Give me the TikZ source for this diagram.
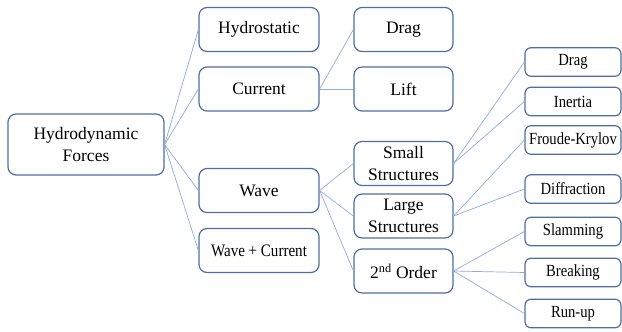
\documentclass[tikz,border=0pt]{standalone}
\usepackage{fontspec}
\setmainfont{Liberation Serif}
\newfontfamily\narrowserif[FakeStretch=0.86]{Liberation Serif}
\definecolor{boxline}{HTML}{4E6FA3}
\definecolor{linkline}{HTML}{8FAADC}
\begin{document}
\begin{tikzpicture}[x=1pt,y=-1pt,
  box/.style={draw=boxline, line width=1.2pt, rounded corners=8pt, fill=white,
    align=center, inner sep=0pt, font=\fontsize{17.5}{21.5}\selectfont},
  rootbox/.style={box, minimum width=156pt, minimum height=61pt},
  firstbox/.style={box, minimum width=120pt, minimum height=44pt},
  secondbox/.style={box, minimum width=99pt, minimum height=44pt},
  leafbox/.style={box, minimum width=96pt, minimum height=28.5pt, rounded corners=6pt,
    font=\narrowserif\fontsize{17}{20}\selectfont},
  link/.style={draw=linkline, line width=0.7pt}]
\useasboundingbox (0,0) rectangle (622,332);

% root
\node[rootbox] (hf) at (86,144.5) {Hydrodynamic\\Forces};

% first level
\node[firstbox] (hs) at (259,29.5) {Hydrostatic};
\node[firstbox] (cu) at (259,89) {Current};
\node[firstbox] (wa) at (259,190.5) {Wave};
\node[firstbox, font=\narrowserif\fontsize{17.5}{21}\selectfont] (wc) at (259,250.5) {Wave + Current};

% second level
\node[secondbox] (dr) at (403.5,29.5) {Drag};
\node[secondbox] (li) at (403.5,89) {Lift};
\node[secondbox] (ss) at (403.5,163.5) {Small\\Structures};
\node[secondbox] (ls) at (403.5,216) {Large\\Structures};
\node[secondbox] (so) at (403.5,271) {2\textsuperscript{nd} Order};

% leaves
\node[leafbox] (ldr) at (573,62) {Drag};
\node[leafbox] (lin) at (573,101.5) {Inertia};
\node[leafbox] (lfk) at (573,140) {Froude-Krylov};
\node[leafbox] (ldi) at (573,189) {Diffraction};
\node[leafbox] (lsl) at (573,231.5) {Slamming};
\node[leafbox] (lbr) at (573,272.5) {Breaking};
\node[leafbox] (lru) at (573,313.5) {Run-up};

% connectors
\foreach \t in {hs,cu,wa,wc} \draw[link] (hf.east) -- (\t.west);
\foreach \t in {dr,li} \draw[link] (cu.east) -- (\t.west);
\foreach \t in {ss,ls,so} \draw[link] (wa.east) -- (\t.west);
\foreach \t in {ldr,lin} \draw[link] (ss.east) -- (\t.west);
\foreach \t in {lfk,ldi} \draw[link] (ls.east) -- (\t.west);
\foreach \t in {lsl,lbr,lru} \draw[link] (so.east) -- (\t.west);
\end{tikzpicture}
\end{document}
